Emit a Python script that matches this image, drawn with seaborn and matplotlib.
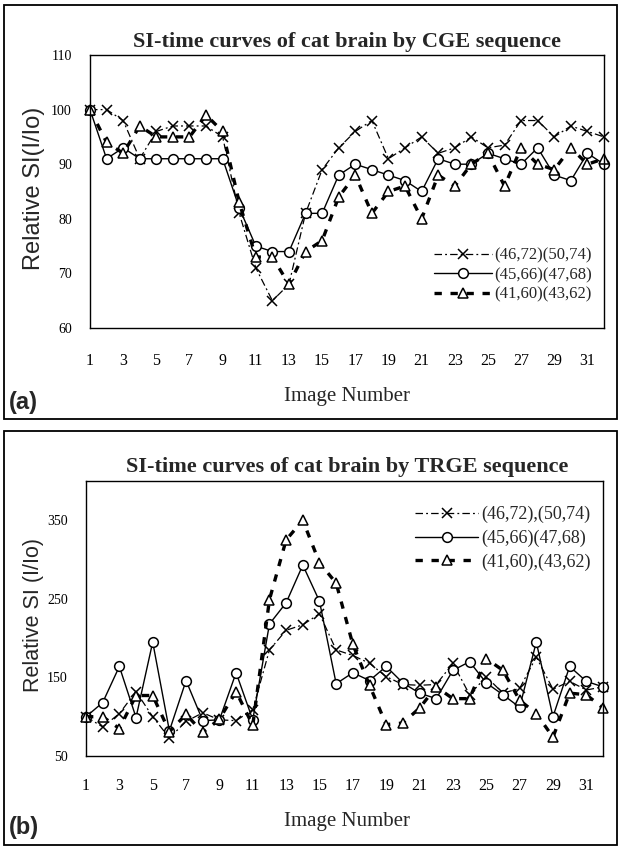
import matplotlib
matplotlib.use("Agg")
import matplotlib.pyplot as plt
from matplotlib.patches import Rectangle
from matplotlib.ticker import MultipleLocator
import seaborn as sns

image_no = list(range(1, 33))
xtick_labels = list(range(1, 32, 2))

# (a) CGE sequence
cge_labels = ["(46,72)(50,74)", "(45,66)(47,68)", "(41,60)(43,62)"]
cge_x = [100, 100, 98, 91, 96, 97, 97, 97, 95, 81, 71, 65, 68, 81, 89, 93,
         96, 98, 91, 93, 95, 92, 93, 95, 93, 93.5, 98, 98, 95, 97, 96, 95]
cge_o = [100, 91, 93, 91, 91, 91, 91, 91, 91, 82, 75, 74, 74, 81, 81, 88,
         90, 89, 88, 87, 85, 91, 90, 90, 92, 91, 90, 93, 88, 87, 92, 90]
cge_t = [100, 94, 92, 97, 95, 95, 95, 99, 96, 83, 73, 73, 68, 74, 76, 84,
         88, 81, 85, 86, 80, 88, 86, 90, 92, 86, 93, 90, 89, 93, 90, 91]

# (b) TRGE sequence
trge_labels = ["(46,72),(50,74)", "(45,66)(47,68)", "(41,60),(43,62)"]
trge_x = [100, 87, 104, 132, 100, 73, 94, 105, 96, 95, 109, 185, 210, 217, 231, 185,
          178, 168, 151, 141, 140, 141, 168, 128, 151, 130, 136, 176, 135, 145, 134, 138]
trge_o = [100, 118, 164, 99, 195, 82, 146, 95, 96, 156, 96, 218, 245, 293, 247, 142,
          156, 146, 164, 143, 130, 123, 159, 170, 143, 128, 112, 195, 100, 164, 145, 138]
trge_t = [100, 100, 85, 127, 127, 81, 103, 80, 97, 132, 89, 249, 325, 350, 296, 270,
          192, 140, 90, 92, 111, 138, 123, 123, 174, 159, 121, 104, 74, 130, 128, 111]

SERIF = "Liberation Serif"
SANS = "Liberation Sans"

STYLES = [
    dict(marker="x", markersize=7.5, linewidth=0.9, linestyle=(0, (6, 2.5, 1.5, 2.5))),
    dict(marker="o", markersize=7, linewidth=1.0, linestyle="-", markerfacecolor="white"),
    dict(marker="^", markersize=7, linewidth=2.4, linestyle=(0, (2.2, 2.6)), markerfacecolor="white"),
]

sns.set_theme(style="white")
plt.rcParams["font.family"] = [SERIF, "DejaVu Serif"]

W, H = 620, 847
fig = plt.figure(figsize=(W / 100, H / 100), dpi=100)
fig.patch.set_facecolor("white")


def fx(px):
    return px / W


def fy(py):
    return 1 - py / H


def draw_panel(ax, series, labels, ylim, title, ylabel, tag, box, ylab_y, ylab_size,
               title_y, xlab_y, xpad, leg, leg_size, leg_space):
    for vals, lab, st in zip(series, labels, STYLES):
        sns.lineplot(x=image_no, y=vals, ax=ax, color="black", label=lab,
                     estimator=None, markeredgecolor="black", markeredgewidth=1.1,
                     clip_on=False, **st)
    ax.set_xlim(1, 32)
    ax.set_ylim(*ylim)
    ax.set_xticks(xtick_labels)
    ax.set_xticklabels([str(v) for v in xtick_labels], fontfamily=SERIF, fontsize=11.5)
    for s in ax.spines.values():
        s.set_color("black")
        s.set_linewidth(1.0)
    ax.tick_params(axis="x", direction="in", length=5, width=0.8, pad=xpad, colors="black")
    ax.tick_params(axis="y", direction="in", length=5, width=0.8, pad=13, colors="black")
    ax.tick_params(axis="y", which="minor", direction="in", length=5, width=0.8)
    for t in ax.get_yticklabels():
        t.set_fontfamily(SERIF)
        t.set_fontsize(10)
    ax.set_xlabel("")
    ax.set_ylabel("")
    ax.legend(frameon=False, prop={"family": SERIF, "size": leg_size}, handlelength=3.5,
              handletextpad=0.15, labelspacing=leg_space, numpoints=1, borderaxespad=0.3,
              **leg)

    fig.text(fx(347), fy(title_y), title, ha="center", va="center",
             fontfamily=SERIF, fontweight="bold", fontsize=16)
    fig.text(fx(34), fy(ylab_y), ylabel, ha="center", va="center", rotation=90,
             fontfamily=SANS, fontsize=ylab_size)
    fig.text(fx(347), fy(xlab_y), "Image Number", ha="center", va="center",
             fontfamily=SERIF, fontsize=15)
    fig.text(fx(9), fy(xlab_y + 6), tag, ha="left", va="center",
             fontfamily=SANS, fontweight="bold", fontsize=17)
    x0, y0, x1, y1 = box
    fig.add_artist(Rectangle((fx(x0), fy(y1)), fx(x1) - fx(x0), fy(y0) - fy(y1),
                             transform=fig.transFigure, fill=False,
                             edgecolor="black", linewidth=1.3))


# --- (a) CGE ---
ax1 = fig.add_axes([fx(90), fy(328), fx(604) - fx(90), fy(55) - fy(328)])
ax1.set_yticks([60, 70, 80, 90, 100, 110])
draw_panel(ax1, [cge_x, cge_o, cge_t], cge_labels, (60, 110),
           "SI-time curves of cat brain by CGE sequence", "Relative SI(I/Io)", "(a)",
           (4, 5, 617, 419), ylab_y=188, ylab_size=17, title_y=42, xlab_y=396, xpad=18,
           leg=dict(loc="lower right", bbox_to_anchor=(1.0, 0.05)),
           leg_size=12, leg_space=0.22)

# --- (b) TRGE ---
ax2 = fig.add_axes([fx(86), fy(756), fx(603) - fx(86), fy(481) - fy(756)])
ax2.set_yticks([50, 150, 250, 350])
ax2.yaxis.set_minor_locator(MultipleLocator(50))
draw_panel(ax2, [trge_x, trge_o, trge_t], trge_labels, (50, 400),
           "SI-time curves of cat brain by TRGE sequence", "Relative SI (I/Io)", "(b)",
           (4, 431, 617, 845), ylab_y=615, ylab_size=15.5, title_y=467, xlab_y=821, xpad=16,
           leg=dict(loc="upper right", bbox_to_anchor=(1.0, 0.955)),
           leg_size=13, leg_space=0.35)

fig.savefig("out.png", dpi=100, facecolor="white")
